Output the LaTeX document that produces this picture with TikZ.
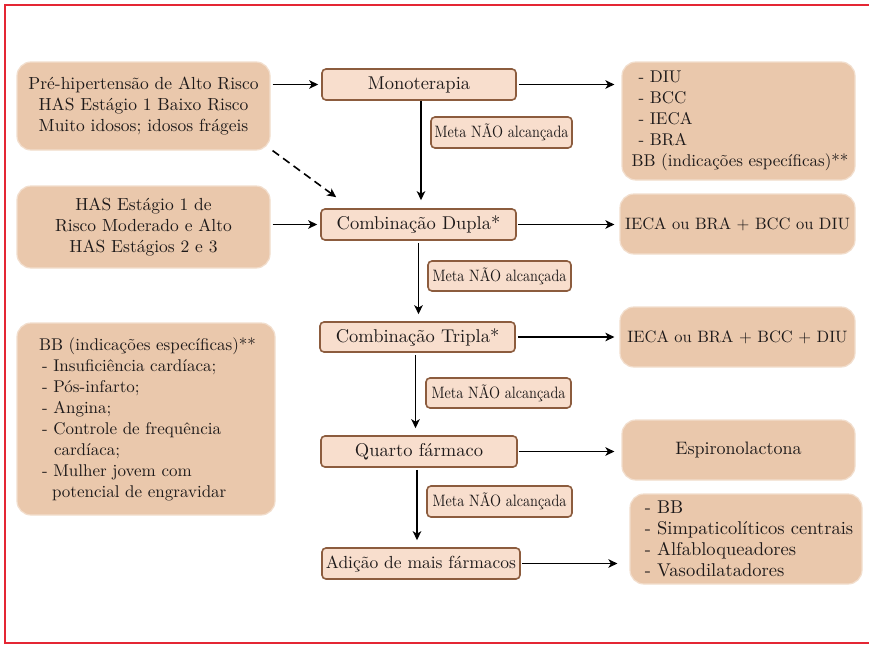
\documentclass[tikz,border=0pt]{standalone}
\usepackage{fontspec}
\setmainfont{lmroman10-regular.otf}
\usetikzlibrary{arrows.meta}
\definecolor{boxtan}{RGB}{234,200,172}
\definecolor{boxhalo}{RGB}{242,222,205}
\definecolor{steplight}{RGB}{248,222,205}
\definecolor{stepborder}{RGB}{140,92,62}
\definecolor{framered}{RGB}{228,38,52}
\definecolor{textdark}{RGB}{30,26,26}
\tikzset{
  tanbox/.style={rectangle, rounded corners=14pt, fill=boxtan, draw=boxhalo, line width=1.2pt,
    inner sep=0pt, text=textdark, font=\fontsize{17.5}{21}\selectfont},
  fs/.style={font=\fontsize{#1}{21}\selectfont},
  stepbox/.style={rectangle, rounded corners=4pt, fill=steplight, draw=stepborder, line width=1.6pt,
    inner sep=0pt, text=textdark, font=\fontsize{18.5}{21}\selectfont},
  metabox/.style={stepbox, font=\fontsize{16.5}{19}\selectfont},
  arr/.style={-{Stealth[length=9pt,width=8.5pt,inset=2.5pt]}, line width=1.6pt, black},
}
\newcommand{\metatext}{\scalebox{0.86}[1]{Meta NÃO alcançada}}
\begin{document}
\begin{tikzpicture}[x=1pt,y=-1pt]
\useasboundingbox (0,0) rectangle (869,645);
\fill[white] (0,0) rectangle (869,645);
\draw[framered, line width=2.6pt] (869,5) -- (5,5) -- (5,643) -- (869,643);

% left boxes
\node[tanbox, minimum width=253pt, minimum height=88pt, align=center] (l1) at (143.5,106)
  {Pré-hipertensão de Alto Risco\\HAS Estágio 1 Baixo Risco\\Muito idosos; idosos frágeis};
\node[tanbox, minimum width=253pt, minimum height=82pt, align=center] (l2) at (143.5,227)
  {HAS Estágio 1 de\\Risco Moderado e Alto\\HAS Estágios 2 e 3};
\node[tanbox, fs=17, minimum width=258pt, minimum height=192pt, align=left] (l3) at (146,419)
  {\hspace*{3pt}BB (indicações específicas)**\\
   \hspace*{6pt}- Insuficiência cardíaca;\\
   \hspace*{6pt}- Pós-infarto;\\
   \hspace*{6pt}- Angina;\\
   \hspace*{6pt}- Controle de frequência\\
   \hspace*{18pt}cardíaca;\\
   \hspace*{6pt}- Mulher jovem com\\
   \hspace*{16pt}potencial de engravidar};

% step boxes
\node[stepbox, minimum width=194pt, minimum height=31pt] (mono) at (419,84.5) {Monoterapia};
\node[stepbox, minimum width=195pt, minimum height=31pt] (dupla) at (418.5,224.5) {Combinação Dupla*};
\node[stepbox, minimum width=195pt, minimum height=30pt] (tripla) at (417.5,337) {Combinação Tripla*};
\node[stepbox, minimum width=196pt, minimum height=31pt] (quarto) at (419,451.5) {Quarto fármaco};
\node[stepbox, fs=17.5, minimum width=198pt, minimum height=31pt] (adicao) at (421,563.5) {Adição de mais fármacos};

% meta boxes
\node[metabox, minimum width=141pt, minimum height=31pt] (m1) at (501.5,132.5) {\metatext};
\node[metabox, minimum width=143pt, minimum height=30pt] (m2) at (499.5,276) {\metatext};
\node[metabox, minimum width=145pt, minimum height=30pt] (m3) at (498.5,393) {\metatext};
\node[metabox, minimum width=145pt, minimum height=31pt] (m4) at (499.5,501.5) {\metatext};

% right boxes
\node[tanbox, fs=17, minimum width=233pt, minimum height=118pt, align=left] (r1) at (738.5,121)
  {\hspace*{10pt}- DIU\\
   \hspace*{10pt}- BCC\\
   \hspace*{10pt}- IECA\\
   \hspace*{10pt}- BRA\\
   \hspace*{3pt}BB (indicações específicas)**};
\node[tanbox, fs=16.5, minimum width=235pt, minimum height=60pt] (r2) at (737.5,224) {IECA ou BRA + BCC ou DIU};
\node[tanbox, fs=16.5, minimum width=235pt, minimum height=60pt] (r3) at (737.5,337) {IECA ou BRA + BCC + DIU};
\node[tanbox, fs=18, minimum width=233pt, minimum height=60pt] (r4) at (738.5,450) {Espironolactona};
\node[tanbox, fs=18.5, minimum width=232pt, minimum height=90pt, align=left] (r5) at (746,539)
  {\hspace*{6pt}- BB\\
   \hspace*{6pt}- Simpaticolíticos centrais\\
   \hspace*{6pt}- Alfabloqueadores\\
   \hspace*{6pt}- Vasodilatadores};

% horizontal connectors
\draw[arr, shorten <=2pt, shorten >=3pt] (l1.east |- mono.west) -- (mono.west);
\draw[arr, shorten <=2pt, shorten >=3pt] (l2.east |- dupla.west) -- (dupla.west);
\draw[arr, shorten <=2pt, shorten >=7pt] (mono.east) -- (mono.east -| r1.west);
\draw[arr, shorten <=1pt, shorten >=5pt] (dupla.east) -- (dupla.east -| r2.west);
\draw[arr, shorten <=2pt, shorten >=5pt] (tripla.east) -- (tripla.east -| r3.west);
\draw[arr, shorten <=1pt, shorten >=7pt] (quarto.east) -- (quarto.east -| r4.west);
\draw[arr, shorten <=1pt, shorten >=12pt] (adicao.east) -- (adicao.east -| r5.west);

% vertical connectors
\draw[arr, shorten >=8pt] ([xshift=2pt]mono.south) -- ([xshift=2pt]mono.south |- dupla.north);
\draw[arr, shorten <=2pt, shorten >=7pt] ([xshift=0pt]dupla.south) -- ([xshift=0pt]dupla.south |- tripla.north);
\draw[arr, shorten <=2pt, shorten >=7pt] ([xshift=-2pt]tripla.south) -- ([xshift=-2pt]tripla.south |- quarto.north);
\draw[arr, shorten <=2pt, shorten >=7pt] ([xshift=-2pt]quarto.south) -- ([xshift=-2pt]quarto.south |- adicao.north);

% dashed connector
\draw[arr, dash pattern=on 8pt off 5pt] ([xshift=2pt]l1.south east) -- ([xshift=16pt,yshift=11pt]dupla.north west);
\end{tikzpicture}
\end{document}
